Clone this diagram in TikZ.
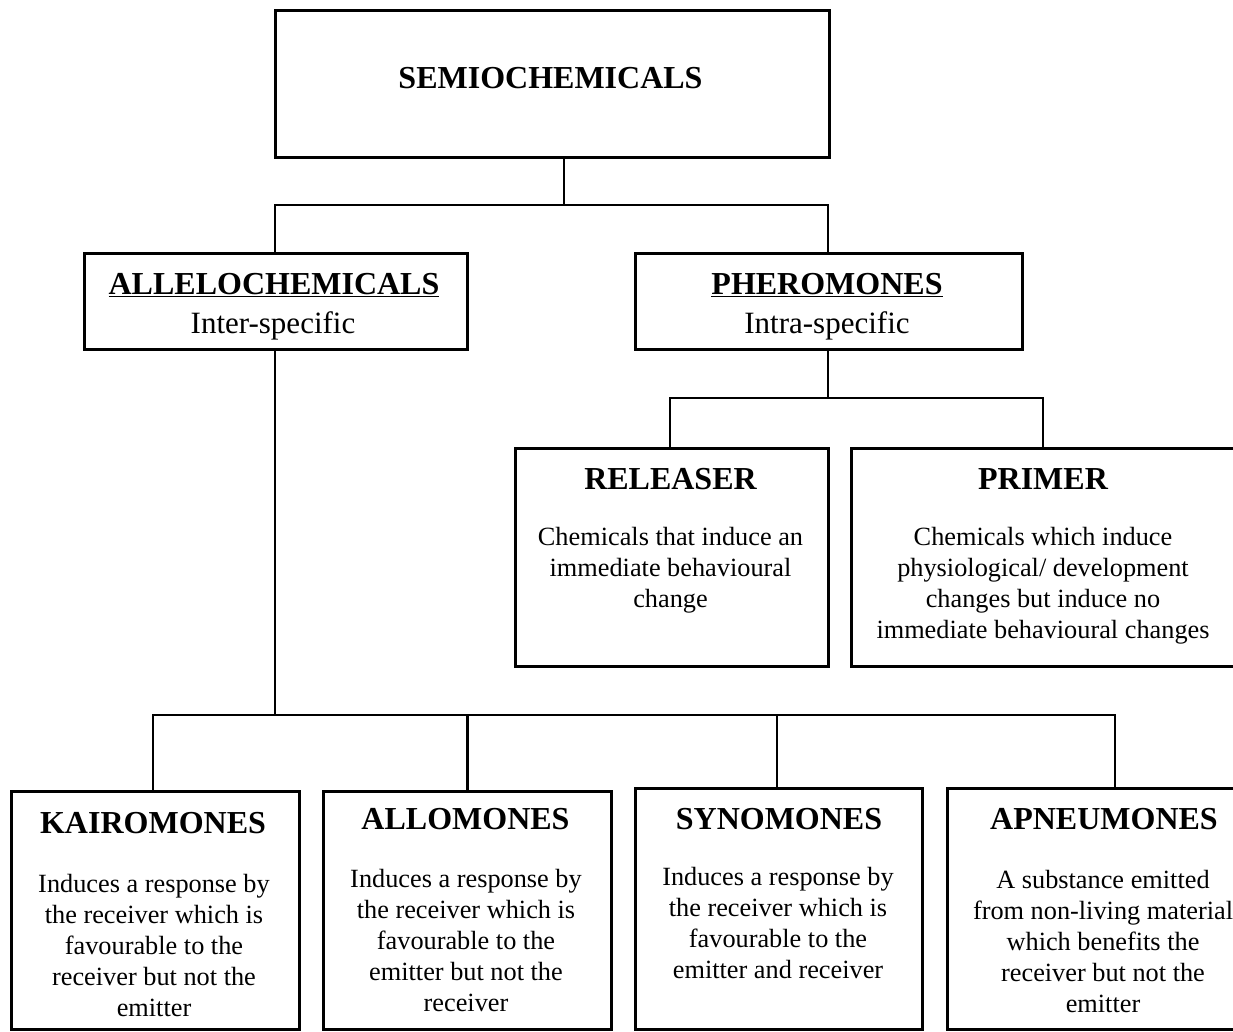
\documentclass[tikz,border=0pt]{standalone}
\usepackage{fontspec}
\setmainfont{Liberation Serif}
\begin{document}
\begin{tikzpicture}[x=1pt,y=-1pt,
  box/.style={draw, line width=2.7pt, inner sep=0pt, anchor=north west},
  conn/.style={line width=2.7pt},
  head/.style={font=\bfseries\fontsize{32}{38}\selectfont, inner sep=0pt, anchor=base},
  midhead/.style={font=\bfseries\fontsize{32}{38}\selectfont, inner sep=0pt, anchor=base},
  sub/.style={font=\fontsize{31}{36}\selectfont, inner sep=0pt, anchor=base},
  body/.style={font=\fontsize{26.3}{31}\selectfont, align=center, inner sep=0pt, anchor=north}]
\useasboundingbox (0,0) rectangle (1233,1031);
\clip (0,0) rectangle (1233,1031);
\fill[white] (0,0) rectangle (1233,1031);
% boxes
\node[box, minimum width=554pt, minimum height=147pt] (semio) at (274,9) {};
\node[box, minimum width=383pt, minimum height=96pt] (allelo) at (83,252) {};
\node[box, minimum width=387pt, minimum height=96pt] (phero) at (634,252) {};
\node[box, minimum width=313pt, minimum height=218pt] (releaser) at (514,447) {};
\node[box, minimum width=386pt, minimum height=218pt] (primer) at (850,447) {};
\node[box, minimum width=288pt, minimum height=238pt] (kairo) at (10,790) {};
\node[box, minimum width=288pt, minimum height=238pt] (allo) at (322,790) {};
\node[box, minimum width=287pt, minimum height=241pt] (syno) at (634,787) {};
\node[box, minimum width=314pt, minimum height=241pt] (apneu) at (946,787) {};
% texts
\node[head] (tsemio) at (550.5,88) {SEMIOCHEMICALS};
\node[midhead] (tallelo) at (274,294) {\underline{ALLELOCHEMICALS}};
\node[sub] (tinter) at (273,333) {Inter-specific};
\node[midhead] (tphero) at (827,294) {\underline{PHEROMONES}};
\node[sub] (tintra) at (827,333) {Intra-specific};
\node[head] (trel) at (670.5,489) {RELEASER};
\node[body] (brel) at (670.5,527) {Chemicals that induce an\\immediate behavioural\\change};
\node[head] (tpri) at (1043,489) {PRIMER};
\node[body] (bpri) at (1043,527) {Chemicals which induce\\physiological/ development\\changes but induce no\\immediate behavioural changes};
\node[head] (tkai) at (153,833) {KAIROMONES};
\node[body] (bkai) at (154,874) {Induces a response by\\the receiver which is\\favourable to the\\receiver but not the\\emitter};
\node[head] (tallo) at (465.5,829) {ALLOMONES};
\node[body] (ballo) at (466,869) {Induces a response by\\the receiver which is\\favourable to the\\emitter but not the\\receiver};
\node[head] (tsyn) at (779,829) {SYNOMONES};
\node[body] (bsyn) at (778,867) {Induces a response by\\the receiver which is\\favourable to the\\emitter and receiver};
\node[head] (tapn) at (1104,829) {APNEUMONES};
\node[body] (bapn) at (1103,870) {A substance emitted\\from non-living material\\which benefits the\\receiver but not the\\emitter};
% junction coordinates
\coordinate (j1) at (564,205);
\coordinate (sL) at (275,205);
\coordinate (sR) at (828,205);
\coordinate (pL) at (670,398);
\coordinate (pR) at (1043,398);
\coordinate (aJ) at (275,715);
\coordinate (bL) at (153,715);
\coordinate (bR) at (1115,715);
% connectors
\draw[conn] (semio.south -| j1) -- (j1);
\draw[conn] (allelo.north -| sL) |- (sR) -- (phero.north -| sR);
\draw[conn] (phero.south -| sR) -- (sR |- pL);
\draw[conn] (releaser.north -| pL) |- (pR) -- (primer.north -| pR);
\draw[conn] (allelo.south -| aJ) -- (aJ);
\draw[conn] (kairo.north -| bL) |- (bR) -- (apneu.north -| bR);
\draw[conn] (allo.north) -- (allo.north |- bL);
\draw[conn] (syno.north -| 777,0) -- (777,715);
\end{tikzpicture}
\end{document}
